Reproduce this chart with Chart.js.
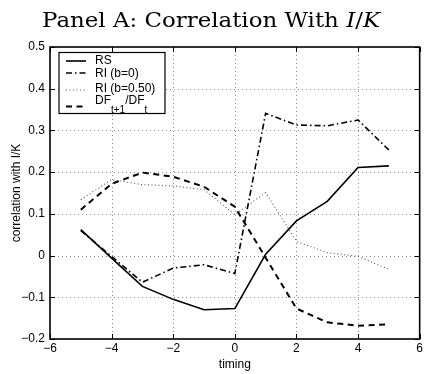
<!DOCTYPE html>
<html>
<head>
<meta charset="utf-8">
<script src="https://cdn.jsdelivr.net/npm/chart.js@4.4.1/dist/chart.umd.min.js"></script>
<style>
html,body{margin:0;padding:0;background:#fff;}
#wrap{width:425px;height:374px;position:relative;}
</style>
</head>
<body>
<div id="wrap"><canvas id="c" width="425" height="374"></canvas></div>
<script>
const timing = [-5, -4, -3, -2, -1, 0, 1, 2, 3, 4, 5];
const rs   = [0.062, -0.006, -0.074, -0.105, -0.130, -0.127, 0.003, 0.083, 0.130, 0.211, 0.215];
const ri0  = [0.060, -0.002, -0.064, -0.030, -0.022, -0.043, 0.341, 0.313, 0.311, 0.325, 0.253];
const ri50 = [0.134, 0.182, 0.170, 0.167, 0.158, 0.098, 0.151, 0.034, 0.007, -0.002, -0.033];
const df   = [0.110, 0.172, 0.199, 0.189, 0.165, 0.117, -0.005, -0.127, -0.160, -0.168, -0.165];
const xTicks = [-6, -4, -2, 0, 2, 4, 6];
const yTicks = [-0.2, -0.1, 0, 0.1, 0.2, 0.3, 0.4, 0.5];
const seriesNames = ['RS', 'RI (b=0)', 'RI (b=0.50)', 'DF'];
const titleText = ['Panel A: Correlation With ', 'I', '/', 'K'];

const pts = arr => timing.map((t, i) => ({x: t, y: arr[i]}));
const fmt = v => {
  let s = Math.abs(v) < 1e-9 ? '0' : String(Math.round(v * 10) / 10);
  return s.replace('-', '\u2212');
};

const styles = [
  {borderColor: '#000', borderWidth: 1.6, borderDash: []},
  {borderColor: '#000', borderWidth: 1.6, borderDash: [6, 3, 1.5, 3]},
  {borderColor: '#555', borderWidth: 1.1, borderDash: [1, 2.5]},
  {borderColor: '#000', borderWidth: 2, borderDash: [6, 4.5]}
];

const decor = {
  id: 'decor',
  beforeDatasetsDraw(chart) {
    const {ctx, chartArea: a, scales: {x, y}} = chart;
    ctx.save();
    ctx.strokeStyle = '#888';
    ctx.lineWidth = 1;
    ctx.setLineDash([1, 3]);
    xTicks.forEach(v => {
      if (v === -6 || v === 6) return;
      const px = Math.round(x.getPixelForValue(v)) + 0.5;
      ctx.beginPath(); ctx.moveTo(px, a.top); ctx.lineTo(px, a.bottom); ctx.stroke();
    });
    yTicks.forEach(v => {
      if (v === -0.2 || v === 0.5) return;
      const py = Math.round(y.getPixelForValue(v)) + 0.5;
      ctx.beginPath(); ctx.moveTo(a.left, py); ctx.lineTo(a.right, py); ctx.stroke();
    });
    ctx.restore();
  },
  afterDatasetsDraw(chart) {
    const {ctx, chartArea: a, scales: {x, y}} = chart;
    ctx.save();
    ctx.setLineDash([]);
    ctx.strokeStyle = '#000';
    ctx.lineWidth = 1;
    const tl = 5;
    xTicks.forEach(v => {
      const px = Math.round(x.getPixelForValue(v)) + 0.5;
      ctx.beginPath(); ctx.moveTo(px, a.bottom); ctx.lineTo(px, a.bottom - tl);
      ctx.moveTo(px, a.top); ctx.lineTo(px, a.top + tl); ctx.stroke();
    });
    yTicks.forEach(v => {
      const py = Math.round(y.getPixelForValue(v)) + 0.5;
      ctx.beginPath(); ctx.moveTo(a.left, py); ctx.lineTo(a.left + tl, py);
      ctx.moveTo(a.right, py); ctx.lineTo(a.right - tl, py); ctx.stroke();
    });
    ctx.lineWidth = 1.6;
    ctx.strokeRect(a.left, a.top, a.right - a.left, a.bottom - a.top);

    // legend
    const bx = 59, by = 52.5, bw = 106, bh = 61;
    ctx.fillStyle = '#fff';
    ctx.fillRect(bx, by, bw, bh);
    ctx.lineWidth = 1.2;
    ctx.strokeRect(bx, by, bw, bh);
    const lineY = [61, 73, 90, 106.5];
    const textY = [61, 73.5, 89, 100.5];
    ctx.font = '12px "Liberation Sans", Arial, sans-serif';
    ctx.textBaseline = 'middle';
    ctx.textAlign = 'left';
    ctx.fillStyle = '#000';
    styles.forEach((s, i) => {
      ctx.save();
      ctx.strokeStyle = s.borderColor;
      ctx.lineWidth = s.borderWidth;
      ctx.setLineDash(s.borderDash);
      ctx.beginPath(); ctx.moveTo(66, lineY[i]); ctx.lineTo(86, lineY[i]); ctx.stroke();
      ctx.restore();
      if (i < 3) {
        ctx.fillText(seriesNames[i], 95, textY[i]);
      } else {
        let xx = 95;
        ctx.font = '12px "Liberation Sans", Arial, sans-serif';
        ctx.fillText('DF', xx, textY[i]); xx += ctx.measureText('DF').width;
        ctx.font = '10px "Liberation Sans", Arial, sans-serif';
        ctx.fillText('t+1', xx, textY[i] + 9.5); xx += ctx.measureText('t+1').width;
        ctx.font = '12px "Liberation Sans", Arial, sans-serif';
        ctx.fillText('/DF', xx, textY[i]); xx += ctx.measureText('/DF').width;
        ctx.font = '10px "Liberation Sans", Arial, sans-serif';
        ctx.fillText('t', xx, textY[i] + 9.5);
      }
    });

    // title (serif, italic I and K), fitted to the reference width
    const reg = '21px "DejaVu Serif", "Liberation Serif", serif';
    const ita = 'italic 21px "DejaVu Serif", "Liberation Serif", serif';
    const fonts = [reg, ita, reg, ita];
    let total = 0;
    titleText.forEach((t, i) => { ctx.font = fonts[i]; total += ctx.measureText(t).width; });
    const targetW = 338;
    const sx = targetW / total;
    ctx.textBaseline = 'alphabetic';
    ctx.translate(211 - targetW / 2, 27);
    ctx.scale(sx, 1);
    let tx = 0;
    titleText.forEach((t, i) => { ctx.font = fonts[i]; ctx.fillText(t, tx, 0); tx += ctx.measureText(t).width; });
    ctx.restore();
  }
};

new Chart(document.getElementById('c'), {
  type: 'line',
  data: {
    datasets: [rs, ri0, ri50, df].map((arr, i) => Object.assign({
      label: seriesNames[i],
      data: pts(arr),
      pointRadius: 0,
      fill: false,
      tension: 0
    }, styles[i]))
  },
  options: {
    responsive: false,
    animation: false,
    layout: {padding: {top: 47, right: 2, left: 0, bottom: 0}},
    plugins: {legend: {display: false}, title: {display: false}, tooltip: {enabled: false}},
    scales: {
      x: {
        type: 'linear', min: -6, max: 6,
        afterBuildTicks: ax => { ax.ticks = xTicks.map(v => ({value: v})); },
        afterFit: ax => { ax.height = 35; },
        grid: {display: false, drawTicks: false},
        border: {display: false},
        ticks: {color: '#000', padding: 2, maxRotation: 0, autoSkip: false,
          font: {family: '"Liberation Sans", Arial, sans-serif', size: 12},
          callback: v => fmt(v)},
        title: {display: true, text: 'timing', color: '#000', padding: {top: 0, bottom: 2},
          font: {family: '"Liberation Sans", Arial, sans-serif', size: 12}}
      },
      y: {
        type: 'linear', min: -0.2, max: 0.5,
        afterBuildTicks: ax => { ax.ticks = yTicks.map(v => ({value: v})); },
        afterFit: ax => { ax.width = 50; },
        grid: {display: false, drawTicks: false},
        border: {display: false},
        ticks: {color: '#000', padding: 5, autoSkip: false,
          font: {family: '"Liberation Sans", Arial, sans-serif', size: 12},
          callback: v => fmt(v)},
        title: {display: true, text: 'correlation with I/K', color: '#000', padding: {top: 9, bottom: 0},
          font: {family: '"Liberation Sans", Arial, sans-serif', size: 12}}
      }
    }
  },
  plugins: [decor]
});
</script>
</body>
</html>
